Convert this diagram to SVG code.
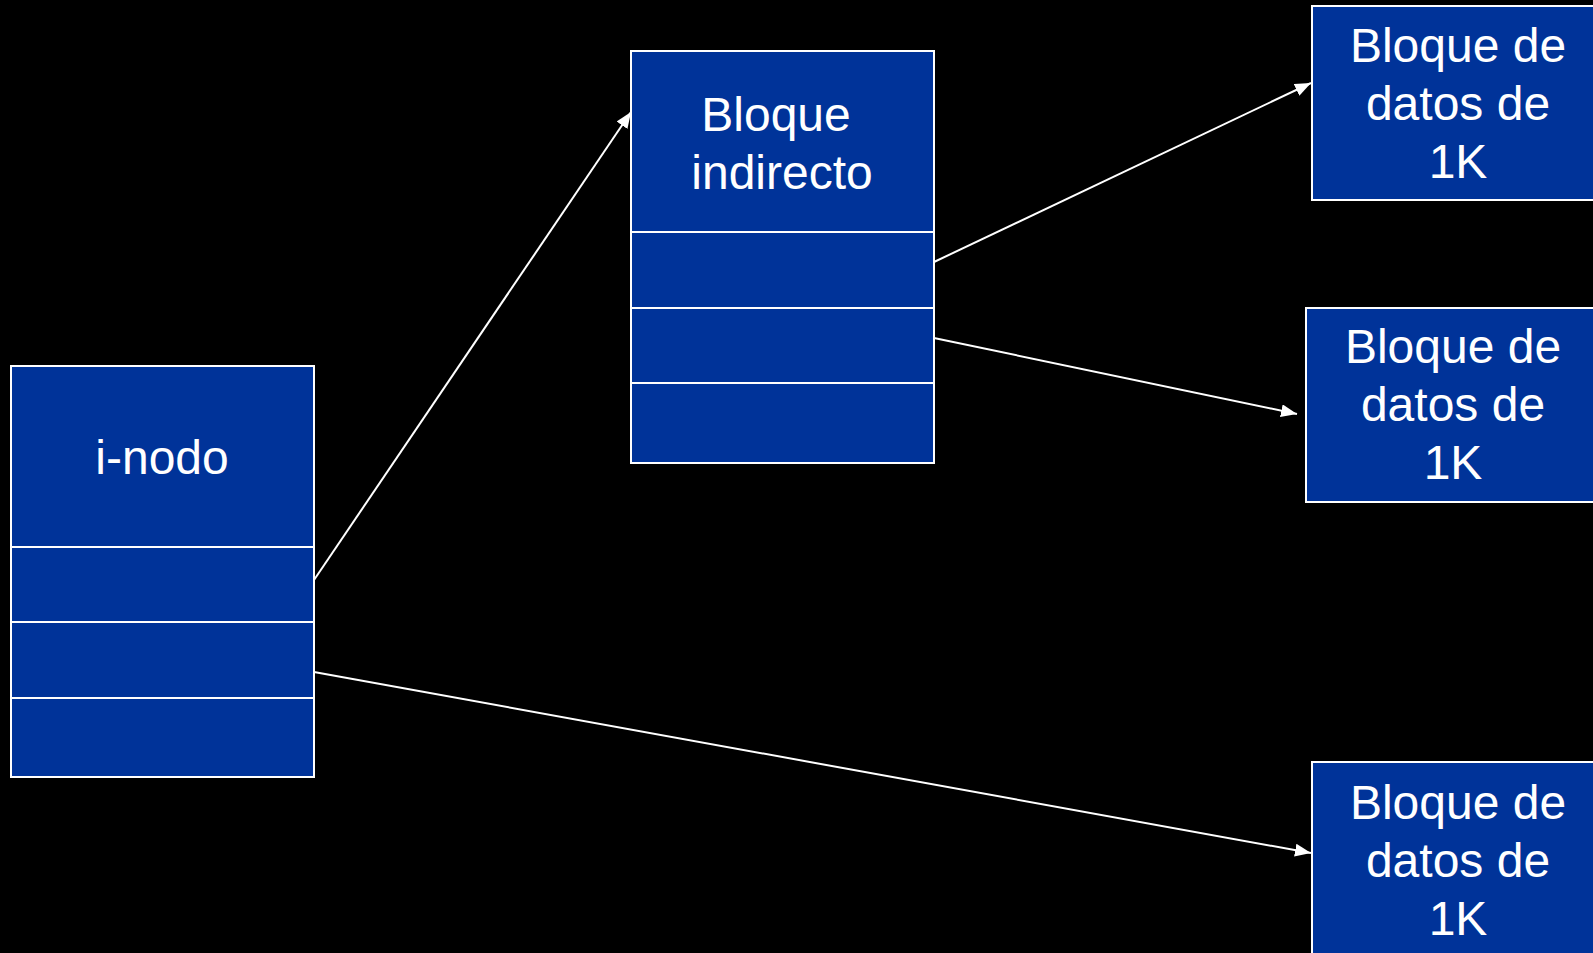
<svg xmlns="http://www.w3.org/2000/svg" width="1593" height="953" viewBox="0 0 1593 953">
<style>
.box{fill:#003399;stroke:#ffffff;stroke-width:2}
.div{stroke:#ffffff;stroke-width:2}
.t{font-family:"Liberation Sans",Arial,sans-serif;font-size:48px;fill:#ffffff;text-anchor:middle}
.c{stroke:#ffffff;stroke-width:2;fill:none;marker-end:url(#ah)}
</style>
<defs>
<marker id="ah" markerUnits="userSpaceOnUse" markerWidth="17" markerHeight="13" refX="16" refY="6.5" orient="auto">
<path d="M0,0 L16,6.5 L0,13 z" fill="#ffffff"/>
</marker>
</defs>
<rect width="1593" height="953" fill="#000000"/>
<g id="inodo">
<rect class="box" x="11" y="366" width="303" height="411"/>
<line class="div" x1="11" y1="547" x2="314" y2="547"/>
<line class="div" x1="11" y1="622" x2="314" y2="622"/>
<line class="div" x1="11" y1="698" x2="314" y2="698"/>
<text class="t" x="162" y="474">i-nodo</text>
</g>
<g id="indirecto">
<rect class="box" x="631" y="51" width="303" height="412"/>
<line class="div" x1="631" y1="232" x2="934" y2="232"/>
<line class="div" x1="631" y1="308" x2="934" y2="308"/>
<line class="div" x1="631" y1="383" x2="934" y2="383"/>
<text class="t" x="776" y="131">Bloque</text>
<text class="t" x="782" y="189">indirecto</text>
</g>
<g id="datos1">
<rect class="box" x="1312" y="6" width="300" height="194"/>
<text class="t" x="1458" y="62">Bloque de</text>
<text class="t" x="1458" y="120">datos de</text>
<text class="t" x="1458" y="178">1K</text>
</g>
<g id="datos2">
<rect class="box" x="1306" y="308" width="300" height="194"/>
<text class="t" x="1453" y="363">Bloque de</text>
<text class="t" x="1453" y="421">datos de</text>
<text class="t" x="1453" y="479">1K</text>
</g>
<g id="datos3">
<rect class="box" x="1312" y="762" width="300" height="200"/>
<text class="t" x="1458" y="819">Bloque de</text>
<text class="t" x="1458" y="877">datos de</text>
<text class="t" x="1458" y="935">1K</text>
</g>
<g id="connectors">
<line class="c" x1="314" y1="580" x2="631" y2="112"/>
<line class="c" x1="934" y1="262" x2="1311" y2="83"/>
<line class="c" x1="934" y1="338" x2="1297" y2="414"/>
<line class="c" x1="314" y1="672" x2="1311" y2="853"/>
</g>
</svg>
